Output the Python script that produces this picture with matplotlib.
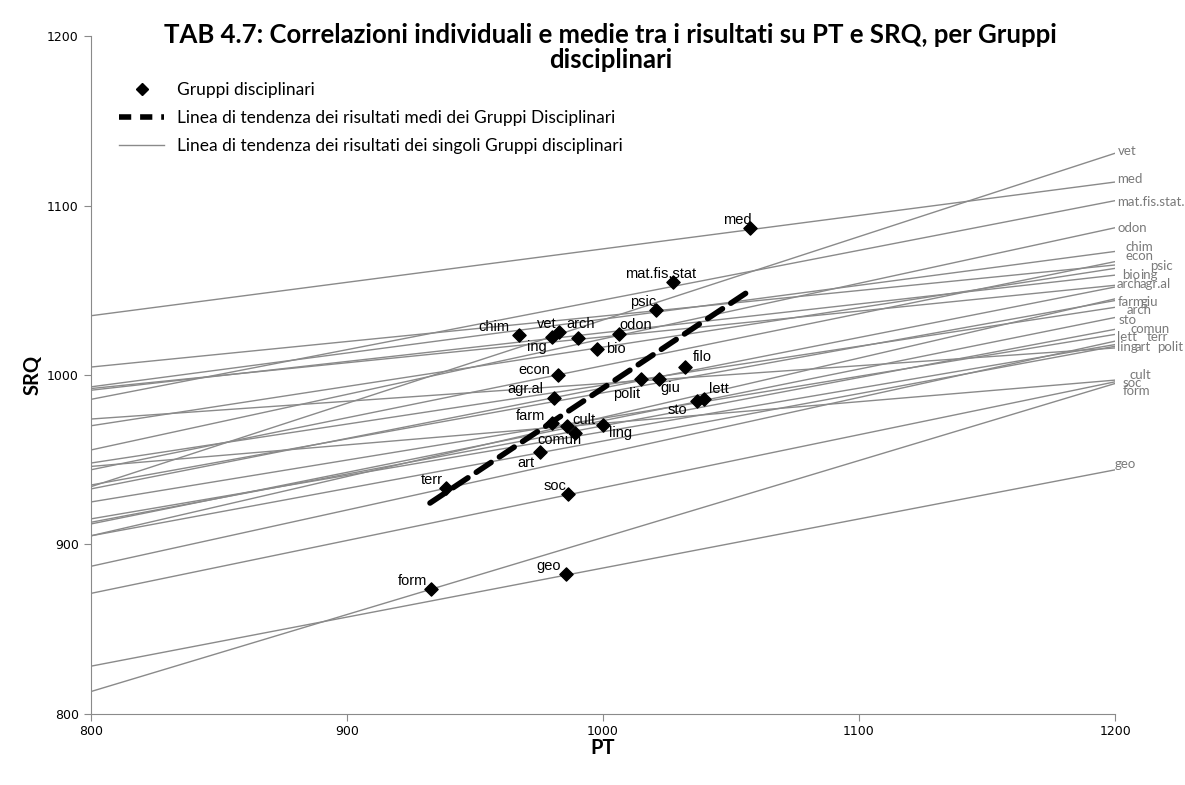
import matplotlib
matplotlib.use("Agg")
import matplotlib.pyplot as plt
from matplotlib.lines import Line2D

# gruppi disciplinari: mean PT, mean SRQ
groups = ['med', 'mat.fis.stat', 'psic', 'chim', 'vet', 'arch', 'odon', 'ing', 'bio',
          'econ', 'filo', 'agr.al', 'polit', 'giu', 'lett', 'sto', 'farm', 'cult',
          'ling', 'comun', 'art', 'terr', 'soc', 'geo', 'form']
pt_mean = [1057.4, 1027.5, 1020.7, 967.4, 983.0, 990.2, 1006.4, 980.0, 997.6,
           982.3, 1032.1, 981.0, 1014.8, 1022.0, 1039.5, 1036.9, 980.0, 986.1,
           1000.2, 989.1, 975.4, 938.6, 986.3, 985.6, 932.8]
srq_mean = [1086.6, 1055.1, 1038.4, 1023.6, 1025.2, 1021.7, 1024.0, 1022.3, 1015.4,
            1000.0, 1004.9, 986.2, 997.5, 997.5, 985.6, 984.8, 971.5, 969.9,
            970.5, 966.0, 954.7, 933.1, 929.5, 882.5, 873.4]

# trend line of each group: SRQ at PT=800 and PT=1200
trend_800 = [1035, 985.6, 1004.7, 993, 934, 992, 955.7, 991, 970,
             944, 948, 932.7, 974, 935, 925, 912, 905, 946,
             915, 913, 905, 887, 871, 828, 813]
trend_1200 = [1114, 1103, 1065, 1073, 1131, 1053, 1087, 1059, 1063,
              1067, 1040, 1052, 1016, 1044, 1024, 1034, 1045, 997,
              1018, 1027, 1017, 1020, 996, 944, 995]

# trend line of the group means
mean_trend_pt = [932.5, 1056.1]
mean_trend_srq = [924.4, 1048.6]

# labels written at the right end of the lines
end_labels = ['vet', 'med', 'mat.fis.stat.', 'odon', 'chim', 'econ', 'psic', 'bio', 'ing',
              'arch', 'agr.al', 'farm', 'giu', 'arch', 'sto', 'comun', 'lett', 'terr',
              'ling', 'art', 'polit', 'cult', 'soc', 'form', 'geo']
end_label_srq = [1132.5, 1115.8, 1102.4, 1086.7, 1075.8, 1070.3, 1064.4, 1059.1, 1059.1,
                 1053.8, 1053.8, 1042.9, 1042.9, 1038.4, 1032.5, 1027.2, 1022.3, 1022.3,
                 1016.7, 1016.7, 1016.7, 1000.0, 995.5, 990.6, 947.3]

# label placement (pixel offsets)
point_label_off = {
    'med': (-13, 8), 'mat.fis.stat': (-13, 8), 'psic': (-13, 8), 'chim': (-25, 8),
    'vet': (-13, 8), 'arch': (3, 14), 'odon': (16, 9), 'ing': (-15, -10),
    'bio': (19, 0), 'econ': (-23, 5), 'filo': (17, 10), 'agr.al': (-29, 9),
    'polit': (-14, -15), 'giu': (11, -9), 'lett': (15, 10), 'sto': (-20, -9),
    'farm': (-21, 7), 'cult': (17, 6), 'ling': (17, -8), 'comun': (-16, -7),
    'art': (-14, -11), 'terr': (-14, 8), 'soc': (-13, 8), 'geo': (-17, 8),
    'form': (-18, 8)}
end_label_dx = [3, 2, 2, 2, 10, 10, 35, 7, 25, 2, 25, 3, 26, 12, 3, 15, 2, 32,
                2, 20, 42, 14, 7, 8, 0]

fig = plt.figure(figsize=(11.85, 7.85), dpi=100)
ax = fig.add_axes([0.0765, 0.0909, 0.8645, 0.8627])

for l0, l1 in zip(trend_800, trend_1200):
    ax.plot([800, 1200], [l0, l1], color='#8a8a8a', lw=1.0, zorder=1)

ax.plot(mean_trend_pt, mean_trend_srq, color='black', lw=4, dashes=(3.2, 1.8),
        dash_capstyle='round', zorder=3)

ax.scatter(pt_mean, srq_mean, marker='D', s=45, color='black', zorder=4)

for g, x, y in zip(groups, pt_mean, srq_mean):
    dx, dy = point_label_off[g]
    ax.annotate(g, (x, y), xytext=(dx, dy), textcoords='offset pixels',
                ha='center', va='center', fontsize=10.5, family='Liberation Sans',
                zorder=5)

for lab, y, dx in zip(end_labels, end_label_srq, end_label_dx):
    ax.annotate(lab, (1200, y), xytext=(dx, 0), textcoords='offset pixels',
                ha='left', va='center', fontsize=9.5, family='Lato',
                color='#7a7a7a', annotation_clip=False)

ax.set_xlim(800, 1200)
ax.set_ylim(800, 1200)
ax.set_xticks([800, 900, 1000, 1100, 1200])
ax.set_yticks([800, 900, 1000, 1100, 1200])
for s in ['top', 'right']:
    ax.spines[s].set_visible(False)
for s in ['left', 'bottom']:
    ax.spines[s].set_color('#8a8a8a')
ax.tick_params(colors='#8a8a8a', labelcolor='black', labelsize=9, length=5,
               direction='out')

ax.set_xlabel('PT', fontsize=14.5, fontweight='bold', family='Lato', labelpad=0)
ax.set_ylabel('SRQ', fontsize=14.5, fontweight='bold', family='Lato', labelpad=3)
fig.text(0.515, 0.971,
         'TAB 4.7: Correlazioni individuali e medie tra i risultati su PT e SRQ, per Gruppi\ndisciplinari',
         ha='center', va='top', fontsize=18.5, fontweight='bold', family='Lato',
         linespacing=1.07)

handles = [
    Line2D([], [], marker='D', color='black', ls='none', markersize=6),
    Line2D([], [], color='black', lw=4, dashes=(2.2, 1.6)),
    Line2D([], [], color='#8a8a8a', lw=1.0),
]
ax.legend(handles, ['Gruppi disciplinari',
                    'Linea di tendenza dei risultati medi dei Gruppi Disciplinari',
                    'Linea di tendenza dei risultati dei singoli Gruppi disciplinari'],
          loc='upper left', bbox_to_anchor=(0.028, 0.932), frameon=False,
          borderpad=0, borderaxespad=0,
          prop={'family': 'Lato', 'size': 12.5}, handlelength=2.6, handletextpad=0.75,
          labelspacing=0.68)

fig.savefig('out.png', dpi=100)
